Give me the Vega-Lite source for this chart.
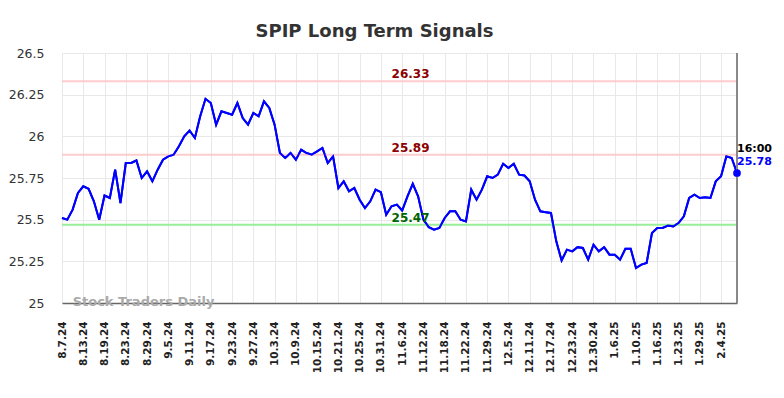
{
  "$schema": "https://vega.github.io/schema/vega-lite/v6.json",
  "width": 675,
  "height": 250,
  "autosize": "none",
  "padding": {"left": 62, "top": 53, "right": 47, "bottom": 95},
  "background": "white",
  "config": {"view": {"stroke": null}, "font": "DejaVu Sans"},
  "title": {"text": "SPIP Long Term Signals", "fontSize": 18, "font": "DejaVu Sans", "fontWeight": "bold", "color": "#333333", "anchor": "middle", "dx": -25, "dy": 28, "offset": 20, "baseline": "alphabetic"},
  "datasets": {
    "levels": [
      {"level": 26.33, "kind": "high"},
      {"level": 25.89, "kind": "high"},
      {"level": 25.47, "kind": "low"}
    ]
  },
  "data": {"values": [
    {"date": "8.7.24", "price": 25.51},
    {"date": "8.8.24", "price": 25.50},
    {"date": "8.9.24", "price": 25.56},
    {"date": "8.12.24", "price": 25.66},
    {"date": "8.13.24", "price": 25.70},
    {"date": "8.14.24", "price": 25.685},
    {"date": "8.15.24", "price": 25.61},
    {"date": "8.16.24", "price": 25.50},
    {"date": "8.19.24", "price": 25.645},
    {"date": "8.20.24", "price": 25.63},
    {"date": "8.21.24", "price": 25.80},
    {"date": "8.22.24", "price": 25.60},
    {"date": "8.23.24", "price": 25.84},
    {"date": "8.26.24", "price": 25.84},
    {"date": "8.27.24", "price": 25.855},
    {"date": "8.28.24", "price": 25.75},
    {"date": "8.29.24", "price": 25.79},
    {"date": "8.30.24", "price": 25.73},
    {"date": "9.3.24", "price": 25.80},
    {"date": "9.4.24", "price": 25.86},
    {"date": "9.5.24", "price": 25.88},
    {"date": "9.6.24", "price": 25.89},
    {"date": "9.9.24", "price": 25.94},
    {"date": "9.10.24", "price": 26.00},
    {"date": "9.11.24", "price": 26.035},
    {"date": "9.12.24", "price": 25.99},
    {"date": "9.13.24", "price": 26.12},
    {"date": "9.16.24", "price": 26.225},
    {"date": "9.17.24", "price": 26.20},
    {"date": "9.18.24", "price": 26.07},
    {"date": "9.19.24", "price": 26.15},
    {"date": "9.20.24", "price": 26.14},
    {"date": "9.23.24", "price": 26.13},
    {"date": "9.24.24", "price": 26.20},
    {"date": "9.25.24", "price": 26.11},
    {"date": "9.26.24", "price": 26.07},
    {"date": "9.27.24", "price": 26.14},
    {"date": "9.30.24", "price": 26.12},
    {"date": "10.1.24", "price": 26.21},
    {"date": "10.2.24", "price": 26.17},
    {"date": "10.3.24", "price": 26.07},
    {"date": "10.4.24", "price": 25.90},
    {"date": "10.7.24", "price": 25.87},
    {"date": "10.8.24", "price": 25.90},
    {"date": "10.9.24", "price": 25.86},
    {"date": "10.10.24", "price": 25.92},
    {"date": "10.11.24", "price": 25.90},
    {"date": "10.14.24", "price": 25.89},
    {"date": "10.15.24", "price": 25.91},
    {"date": "10.16.24", "price": 25.93},
    {"date": "10.17.24", "price": 25.84},
    {"date": "10.18.24", "price": 25.88},
    {"date": "10.21.24", "price": 25.69},
    {"date": "10.22.24", "price": 25.73},
    {"date": "10.23.24", "price": 25.67},
    {"date": "10.24.24", "price": 25.69},
    {"date": "10.25.24", "price": 25.62},
    {"date": "10.28.24", "price": 25.57},
    {"date": "10.29.24", "price": 25.61},
    {"date": "10.30.24", "price": 25.68},
    {"date": "10.31.24", "price": 25.665},
    {"date": "11.1.24", "price": 25.53},
    {"date": "11.4.24", "price": 25.58},
    {"date": "11.5.24", "price": 25.59},
    {"date": "11.6.24", "price": 25.555},
    {"date": "11.7.24", "price": 25.64},
    {"date": "11.8.24", "price": 25.715},
    {"date": "11.11.24", "price": 25.64},
    {"date": "11.12.24", "price": 25.50},
    {"date": "11.13.24", "price": 25.455},
    {"date": "11.14.24", "price": 25.44},
    {"date": "11.15.24", "price": 25.45},
    {"date": "11.18.24", "price": 25.51},
    {"date": "11.19.24", "price": 25.55},
    {"date": "11.20.24", "price": 25.55},
    {"date": "11.21.24", "price": 25.50},
    {"date": "11.22.24", "price": 25.49},
    {"date": "11.25.24", "price": 25.68},
    {"date": "11.26.24", "price": 25.62},
    {"date": "11.27.24", "price": 25.68},
    {"date": "11.29.24", "price": 25.76},
    {"date": "12.2.24", "price": 25.75},
    {"date": "12.3.24", "price": 25.77},
    {"date": "12.4.24", "price": 25.835},
    {"date": "12.5.24", "price": 25.81},
    {"date": "12.6.24", "price": 25.835},
    {"date": "12.9.24", "price": 25.77},
    {"date": "12.10.24", "price": 25.765},
    {"date": "12.11.24", "price": 25.73},
    {"date": "12.12.24", "price": 25.62},
    {"date": "12.13.24", "price": 25.55},
    {"date": "12.16.24", "price": 25.545},
    {"date": "12.17.24", "price": 25.54},
    {"date": "12.18.24", "price": 25.37},
    {"date": "12.19.24", "price": 25.255},
    {"date": "12.20.24", "price": 25.32},
    {"date": "12.23.24", "price": 25.31},
    {"date": "12.24.24", "price": 25.335},
    {"date": "12.26.24", "price": 25.33},
    {"date": "12.27.24", "price": 25.26},
    {"date": "12.30.24", "price": 25.35},
    {"date": "12.31.24", "price": 25.31},
    {"date": "1.2.25", "price": 25.335},
    {"date": "1.3.25", "price": 25.29},
    {"date": "1.6.25", "price": 25.29},
    {"date": "1.7.25", "price": 25.26},
    {"date": "1.8.25", "price": 25.325},
    {"date": "1.9.25", "price": 25.325},
    {"date": "1.10.25", "price": 25.21},
    {"date": "1.13.25", "price": 25.23},
    {"date": "1.14.25", "price": 25.24},
    {"date": "1.15.25", "price": 25.42},
    {"date": "1.16.25", "price": 25.45},
    {"date": "1.17.25", "price": 25.45},
    {"date": "1.21.25", "price": 25.465},
    {"date": "1.22.25", "price": 25.46},
    {"date": "1.23.25", "price": 25.48},
    {"date": "1.24.25", "price": 25.52},
    {"date": "1.27.25", "price": 25.63},
    {"date": "1.28.25", "price": 25.65},
    {"date": "1.29.25", "price": 25.63},
    {"date": "1.30.25", "price": 25.635},
    {"date": "1.31.25", "price": 25.63},
    {"date": "2.3.25", "price": 25.73},
    {"date": "2.4.25", "price": 25.76},
    {"date": "2.5.25", "price": 25.88},
    {"date": "2.6.25", "price": 25.87},
    {"date": "2.7.25", "price": 25.78}
  ]},
  "layer": [
    {
      "mark": {"type": "line", "color": "#0000ff", "strokeWidth": 2},
      "encoding": {
        "x": {
          "field": "date", "type": "ordinal", "sort": null,
          "scale": {"type": "point", "padding": 0},
          "axis": {
            "values": ["8.7.24","8.13.24","8.19.24","8.23.24","8.29.24","9.5.24","9.11.24","9.17.24","9.23.24","9.27.24","10.3.24","10.9.24","10.15.24","10.21.24","10.25.24","10.31.24","11.6.24","11.12.24","11.18.24","11.22.24","11.29.24","12.5.24","12.11.24","12.17.24","12.23.24","12.30.24","1.6.25","1.10.25","1.16.25","1.23.25","1.29.25","2.4.25"],
            "labelAngle": -90, "labelFontSize": 10.5, "labelColor": "#222222", "labelFont": "DejaVu Sans", "labelFontWeight": "bold",
            "ticks": false, "domainColor": "#666666", "domainWidth": 1.5,
            "grid": true, "gridColor": "#e8e8e8", "gridWidth": 1,
            "title": null, "labelPadding": 18
          }
        },
        "y": {
          "field": "price", "type": "quantitative",
          "scale": {"domain": [25, 26.5], "nice": false, "zero": false},
          "axis": {
            "values": [25, 25.25, 25.5, 25.75, 26, 26.25, 26.5],
            "labelExpr": "'' + datum.value",
            "labelFontSize": 12.5, "labelColor": "#333333", "labelFont": "DejaVu Sans",
            "ticks": false, "domain": false,
            "grid": true, "gridColor": "#e8e8e8", "gridWidth": 1,
            "title": null, "labelPadding": 18
          }
        }
      }
    },
    {
      "data": {"name": "levels"},
      "mark": {"type": "rule", "strokeWidth": 2},
      "encoding": {
        "y": {"field": "level", "type": "quantitative"},
        "color": {"field": "kind", "type": "nominal", "scale": {"domain": ["high", "low"], "range": ["#ffcccc", "#99ee99"]}, "legend": null}
      }
    },
    {
      "mark": {"type": "line", "color": "#0000ff", "strokeWidth": 2},
      "encoding": {
        "x": {"field": "date", "type": "ordinal", "sort": null},
        "y": {"field": "price", "type": "quantitative"}
      }
    },
    {
      "transform": [{"filter": "datum.date == '2.7.25'"}],
      "mark": {"type": "rule", "color": "#888888", "strokeWidth": 2},
      "encoding": {
        "x": {"field": "date", "type": "ordinal", "sort": null}
      }
    },
    {
      "transform": [{"filter": "datum.date == '2.7.25'"}],
      "mark": {"type": "circle", "color": "#0000ff", "size": 60, "opacity": 1},
      "encoding": {
        "x": {"field": "date", "type": "ordinal", "sort": null},
        "y": {"field": "price", "type": "quantitative"}
      }
    },
    {
      "transform": [{"filter": "datum.date == '2.7.25'"}],
      "mark": {"type": "text", "text": "16:00", "color": "#000000", "fontWeight": "bold", "fontSize": 11, "align": "left", "baseline": "middle", "dy": -24, "font": "DejaVu Sans"},
      "encoding": {
        "x": {"field": "date", "type": "ordinal", "sort": null},
        "y": {"field": "price", "type": "quantitative"}
      }
    },
    {
      "transform": [{"filter": "datum.date == '2.7.25'"}],
      "mark": {"type": "text", "color": "#0000ff", "fontWeight": "bold", "fontSize": 11, "align": "left", "baseline": "middle", "dy": -11, "font": "DejaVu Sans"},
      "encoding": {
        "x": {"field": "date", "type": "ordinal", "sort": null},
        "y": {"field": "price", "type": "quantitative"},
        "text": {"field": "price", "type": "quantitative", "format": ".2f"}
      }
    },
    {
      "transform": [{"filter": "datum.date == '11.4.24'"}],
      "mark": {"type": "text", "text": "26.33", "color": "#8b0000", "fontWeight": "bold", "fontSize": 12, "align": "left", "baseline": "alphabetic", "dy": -3, "font": "DejaVu Sans"},
      "encoding": {
        "x": {"field": "date", "type": "ordinal", "sort": null},
        "y": {"datum": 26.33, "type": "quantitative"}
      }
    },
    {
      "transform": [{"filter": "datum.date == '11.4.24'"}],
      "mark": {"type": "text", "text": "25.89", "color": "#8b0000", "fontWeight": "bold", "fontSize": 12, "align": "left", "baseline": "alphabetic", "dy": -3, "font": "DejaVu Sans"},
      "encoding": {
        "x": {"field": "date", "type": "ordinal", "sort": null},
        "y": {"datum": 25.89, "type": "quantitative"}
      }
    },
    {
      "transform": [{"filter": "datum.date == '11.4.24'"}],
      "mark": {"type": "text", "text": "25.47", "color": "#006400", "fontWeight": "bold", "fontSize": 12, "align": "left", "baseline": "alphabetic", "dy": -3, "font": "DejaVu Sans"},
      "encoding": {
        "x": {"field": "date", "type": "ordinal", "sort": null},
        "y": {"datum": 25.47, "type": "quantitative"}
      }
    },
    {
      "transform": [{"filter": "datum.date == '8.9.24'"}],
      "mark": {"type": "text", "text": "Stock Traders Daily", "color": "#aaaaaa", "fontWeight": "bold", "fontSize": 13, "align": "left", "baseline": "middle", "dy": -1, "font": "DejaVu Sans"},
      "encoding": {
        "x": {"field": "date", "type": "ordinal", "sort": null},
        "y": {"datum": 25, "type": "quantitative"}
      }
    }
  ]
}
